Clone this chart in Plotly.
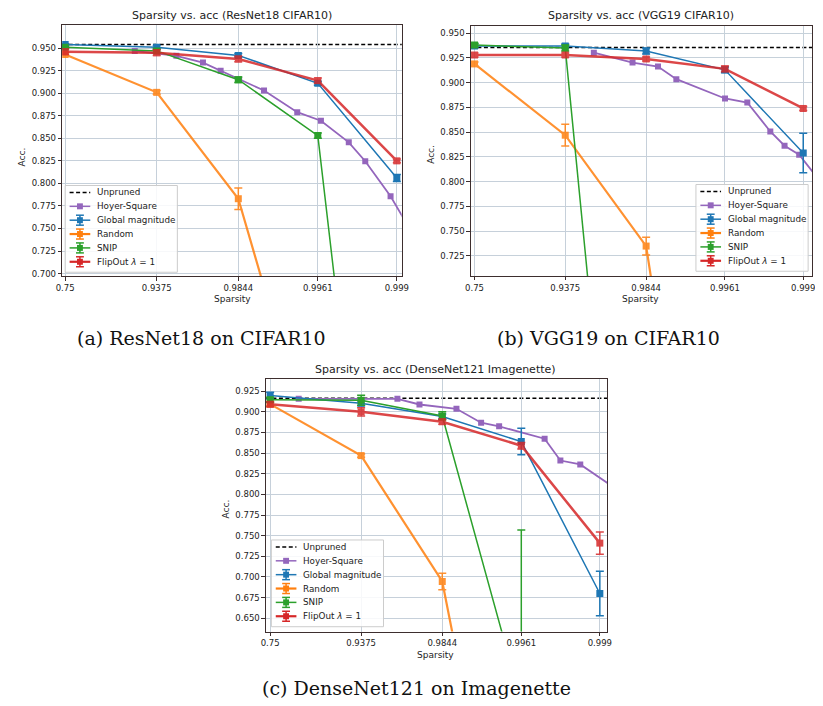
import numpy as np
import plotly.graph_objects as go

# The page body has an 8px margin, so the figure is drawn 8px in from the
# top-left corner; size the figure to fill the rest of the 823x706 window.
OFF = 8
W, H = 823 - OFF, 706 - OFF
FONT = "DejaVu Sans"
SERIF = "DejaVu Serif"
FRAME = "#3d2e2e"
GRID = "#c6d1da"
TXT = "#222222"
DASH = "4px,2.5px"

# ---------------- data ----------------
TICK_SPARSITY = [0.75, 0.9375, 0.984375, 0.99609375, 0.9990234375]
TICK_LABELS = ["0.75", "0.9375", "0.9844", "0.9961", "0.999"]

LEGEND_NAMES = ["Unpruned", "Hoyer-Square", "Global magnitude", "Random", "SNIP", "FlipOut <i>λ</i> = 1"]
C_UNPRUNED = "#000000"
C_HOYER = "#9467bd"
C_GLOBAL = "#1f77b4"
C_RANDOM = "#ff7f0e"
C_SNIP = "#2ca02c"
C_FLIP = "#d62728"

# (a) ResNet18 CIFAR10
A_TITLE = "Sparsity vs. acc (ResNet18 CIFAR10)"
A_CAPTION = "(a) ResNet18 on CIFAR10"
A_UNPRUNED = 0.954
A_GLOBAL = [0.954, 0.951, 0.942, 0.911, 0.806]
A_GLOBAL_ERR = [0.001, 0.002, 0.002, 0.002, 0.004]
A_RANDOM = [0.943, 0.901, 0.783, 0.48, 0.10]
A_RANDOM_ERR = [0.002, 0.002, 0.012, 0.0, 0.0]
A_SNIP = [0.951, 0.947, 0.915, 0.853, 0.10]
A_SNIP_ERR = [0.001, 0.002, 0.003, 0.003, 0.0]
A_FLIP = [0.946, 0.945, 0.938, 0.914, 0.825]
A_FLIP_ERR = [0.003, 0.003, 0.003, 0.003, 0.002]
A_HOYER_SPARSITY = [0.9107, 0.955, 0.9713, 0.9788, 0.9846, 0.990, 0.9944, 0.9963, 0.99773, 0.9983, 0.99891, 0.99935]
A_HOYER = [0.947, 0.9415, 0.934, 0.925, 0.915, 0.903, 0.879, 0.8695, 0.8456, 0.8246, 0.7858, 0.73]

# (b) VGG19 CIFAR10
B_TITLE = "Sparsity vs. acc (VGG19 CIFAR10)"
B_CAPTION = "(b) VGG19 on CIFAR10"
B_UNPRUNED = 0.9355
B_GLOBAL = [0.937, 0.937, 0.932, 0.913, 0.829]
B_GLOBAL_ERR = [0.002, 0.002, 0.003, 0.003, 0.020]
B_RANDOM = [0.919, 0.847, 0.735, 0.22, 0.10]
B_RANDOM_ERR = [0.002, 0.011, 0.009, 0.0, 0.0]
B_SNIP = [0.938, 0.935, 0.10, 0.10, 0.10]
B_SNIP_ERR = [0.002, 0.003, 0.0, 0.0, 0.0]
B_FLIP = [0.928, 0.928, 0.924, 0.914, 0.874]
B_FLIP_ERR = [0.002, 0.002, 0.002, 0.003, 0.002]
B_HOYER_SPARSITY = [0.9614, 0.9802, 0.9873, 0.9908, 0.99610, 0.99737, 0.99825, 0.99864, 0.998951, 0.99939]
B_HOYER = [0.9304, 0.9204, 0.9163, 0.9036, 0.8841, 0.880, 0.8508, 0.8364, 0.8273, 0.788]

# (c) DenseNet121 Imagenette
C_TITLE = "Sparsity vs. acc (DenseNet121 Imagenette)"
C_CAPTION = "(c) DenseNet121 on Imagenette"
C_UNPRUNED_V = 0.9165
C_GLOBAL_V = [0.9197, 0.9105, 0.8943, 0.864, 0.680]
C_GLOBAL_ERR = [0.004, 0.003, 0.003, 0.016, 0.027]
C_RANDOM_V = [0.9093, 0.847, 0.6945, 0.21, 0.10]
C_RANDOM_ERR = [0.002, 0.002, 0.010, 0.0, 0.0]
C_SNIP_V = [0.9145, 0.914, 0.895, 0.548, 0.10]
C_SNIP_ERR = [0.003, 0.006, 0.005, 0.209, 0.0]
C_FLIP_V = [0.9093, 0.900, 0.888, 0.859, 0.741]
C_FLIP_ERR = [0.003, 0.005, 0.003, 0.004, 0.0135]
C_HOYER_SPARSITY = [0.8325, 0.9661, 0.9768, 0.9878, 0.99208, 0.99423, 0.99741, 0.99804, 0.99862, 0.99939]
C_HOYER_V = [0.9158, 0.9158, 0.9089, 0.9037, 0.8868, 0.8824, 0.8675, 0.841, 0.8363, 0.798]


def logit(s):
    s = np.asarray(s, dtype=float)
    return np.log(s / (1.0 - s))


# ---------------- layout (window-pixel boxes) ----------------
PANELS = [
    dict(title=A_TITLE, caption=A_CAPTION, unpruned=A_UNPRUNED,
         series=[(A_GLOBAL, A_GLOBAL_ERR, C_GLOBAL, 1.5, 1.0),
                 (A_RANDOM, A_RANDOM_ERR, C_RANDOM, 2.2, 0.85),
                 (A_SNIP, A_SNIP_ERR, C_SNIP, 1.5, 1.0),
                 (A_FLIP, A_FLIP_ERR, C_FLIP, 2.5, 0.85)],
         hoyer=(A_HOYER_SPARSITY, A_HOYER),
         box=(57, 25, 402, 277), xr=(1.0467, 7.0165), yr=(0.69701, 0.97577),
         yt=np.round(np.arange(0.700, 0.9501, 0.025), 3),
         title_xy=(230, 16), xlab_xy=(230, 300), ylab_xy=(16, 157),
         cap_xy=(199, 339), leg=(60, 186)),
    dict(title=B_TITLE, caption=B_CAPTION, unpruned=B_UNPRUNED,
         series=[(B_GLOBAL, B_GLOBAL_ERR, C_GLOBAL, 1.5, 1.0),
                 (B_RANDOM, B_RANDOM_ERR, C_RANDOM, 2.2, 0.85),
                 (B_SNIP, B_SNIP_ERR, C_SNIP, 1.5, 1.0),
                 (B_FLIP, B_FLIP_ERR, C_FLIP, 2.5, 0.85)],
         hoyer=(B_HOYER_SPARSITY, B_HOYER),
         box=(472.3, 26, 819.3, 276.7), xr=(1.034, 7.0924), yr=(0.70485, 0.95735),
         yt=np.round(np.arange(0.725, 0.9501, 0.025), 3),
         title_xy=(645, 16), xlab_xy=(645, 300), ylab_xy=(431, 155),
         cap_xy=(612, 339), leg=(701, 185)),
    dict(title=C_TITLE, caption=C_CAPTION, unpruned=C_UNPRUNED_V,
         series=[(C_GLOBAL_V, C_GLOBAL_ERR, C_GLOBAL, 1.5, 1.0),
                 (C_RANDOM_V, C_RANDOM_ERR, C_RANDOM, 2.2, 0.85),
                 (C_SNIP_V, C_SNIP_ERR, C_SNIP, 1.5, 1.0),
                 (C_FLIP_V, C_FLIP_ERR, C_FLIP, 2.5, 0.85)],
         hoyer=(C_HOYER_SPARSITY, C_HOYER_V),
         box=(264, 380, 610.7, 633.3), xr=(1.0238, 7.0588), yr=(0.63394, 0.93986),
         yt=np.round(np.arange(0.650, 0.9251, 0.025), 3),
         title_xy=(436.7, 371), xlab_xy=(436.7, 657), ylab_xy=(223.3, 510),
         cap_xy=(416.7, 690), leg=(269.5, 541.5)),
]


def px(x):
    return (x - OFF) / W


def py(y):
    return 1 - (y - OFF) / H


fig = go.Figure()
shapes = []
annotations = []
layout_axes = {}

xt = logit(TICK_SPARSITY)

for i, p in enumerate(PANELS):
    n = "" if i == 0 else str(i + 1)
    xa, ya = "x" + n, "y" + n
    x0, y0, x1, y1 = p["box"]
    axis_common = dict(showline=True, mirror=True, linecolor=FRAME, linewidth=1,
                       ticks="outside", ticklen=3.5, tickwidth=1, tickcolor=FRAME,
                       showgrid=True, gridcolor=GRID, gridwidth=1, zeroline=False,
                       tickfont=dict(family=FONT, size=8.5, color=TXT), fixedrange=True)
    layout_axes["xaxis" + n] = dict(axis_common, domain=[px(x0), px(x1)], anchor=ya,
                                    range=list(p["xr"]), tickmode="array",
                                    tickvals=list(xt), ticktext=TICK_LABELS)
    layout_axes["yaxis" + n] = dict(axis_common, domain=[py(y1), py(y0)], anchor=xa,
                                    range=list(p["yr"]), tickmode="array",
                                    tickvals=list(p["yt"]),
                                    ticktext=["%.3f" % v for v in p["yt"]])

    # unpruned baseline
    shapes.append(dict(type="line", xref=xa + " domain", yref=ya, x0=0, x1=1,
                       y0=p["unpruned"], y1=p["unpruned"], layer="below",
                       line=dict(color=C_UNPRUNED, width=1.5, dash=DASH)))

    # Hoyer-Square
    hs, hv = p["hoyer"]
    fig.add_trace(go.Scatter(x=logit(hs), y=hv, xaxis=xa, yaxis=ya, mode="lines+markers",
                             line=dict(color=C_HOYER, width=1.8),
                             marker=dict(symbol="square", size=6, color=C_HOYER),
                             showlegend=False))
    # error-bar series
    for vals, err, col, lw, op in p["series"]:
        fig.add_trace(go.Scatter(x=xt, y=vals, xaxis=xa, yaxis=ya, mode="lines+markers",
                                 line=dict(color=col, width=lw), opacity=op,
                                 marker=dict(symbol="square", size=7, color=col),
                                 error_y=dict(type="data", array=err, visible=True,
                                              thickness=1.5, width=4, color=col),
                                 showlegend=False))

    # texts
    tx, ty = p["title_xy"]
    annotations.append(dict(text=p["title"], x=px(tx), y=py(ty), xref="paper", yref="paper",
                            showarrow=False, xanchor="center", yanchor="middle",
                            font=dict(family=FONT, size=11, color=TXT)))
    lx, ly = p["xlab_xy"]
    annotations.append(dict(text="Sparsity", x=px(lx), y=py(ly), xref="paper", yref="paper",
                            showarrow=False, xanchor="center", yanchor="middle",
                            font=dict(family=FONT, size=9, color=TXT)))
    lx, ly = p["ylab_xy"]
    annotations.append(dict(text="Acc.", x=px(lx), y=py(ly), xref="paper", yref="paper",
                            showarrow=False, xanchor="center", yanchor="middle", textangle=-90,
                            font=dict(family=FONT, size=9, color=TXT)))
    cx, cy = p["cap_xy"]
    annotations.append(dict(text=p["caption"], x=px(cx), y=py(cy), xref="paper", yref="paper",
                            showarrow=False, xanchor="center", yanchor="middle",
                            font=dict(family=SERIF, size=19, color="#111111")))

    # legend (drawn in paper space)
    gx, gy = p["leg"]
    lw_box, lh_box = 114, 87
    shapes.append(dict(type="rect", xref="paper", yref="paper",
                       x0=px(gx), x1=px(gx + lw_box), y0=py(gy + lh_box), y1=py(gy),
                       fillcolor="rgba(255,255,255,0.85)", line=dict(color="#cccccc", width=1)))
    leg_colors = [C_UNPRUNED, C_HOYER, C_GLOBAL, C_RANDOM, C_SNIP, C_FLIP]
    for k, (name, col) in enumerate(zip(LEGEND_NAMES, leg_colors)):
        ey = gy + 7 + k * 13.9
        lx0, lx1 = gx + 4.5, gx + 25.5
        mx = (lx0 + lx1) / 2
        wline = 2.2 if col in (C_FLIP, C_RANDOM) else 1.5
        shapes.append(dict(type="line", xref="paper", yref="paper", x0=px(lx0), x1=px(lx1),
                           y0=py(ey), y1=py(ey),
                           line=dict(color=col, width=wline, dash=DASH if k == 0 else "solid")))
        if k >= 1:
            shapes.append(dict(type="rect", xref="paper", yref="paper",
                               x0=px(mx - 3), x1=px(mx + 3), y0=py(ey + 3), y1=py(ey - 3),
                               fillcolor=col, line=dict(width=0)))
        if k >= 2:
            shapes.append(dict(type="line", xref="paper", yref="paper", x0=px(mx), x1=px(mx),
                               y0=py(ey - 5), y1=py(ey + 5),
                               line=dict(color=col, width=1.5)))
            for yy in (ey - 5, ey + 5):
                shapes.append(dict(type="line", xref="paper", yref="paper",
                                   x0=px(mx - 4), x1=px(mx + 4), y0=py(yy), y1=py(yy),
                                   line=dict(color=col, width=1.5)))
        annotations.append(dict(text=name, x=px(gx + 30.5), y=py(ey), xref="paper", yref="paper",
                                showarrow=False, xanchor="left", yanchor="middle",
                                font=dict(family=FONT, size=8.8, color=TXT)))

fig.update_layout(width=W, height=H, margin=dict(l=0, r=0, t=0, b=0),
                  paper_bgcolor="white", plot_bgcolor="white", showlegend=False,
                  shapes=shapes, annotations=annotations, **layout_axes)

fig.write_html("out.html")
